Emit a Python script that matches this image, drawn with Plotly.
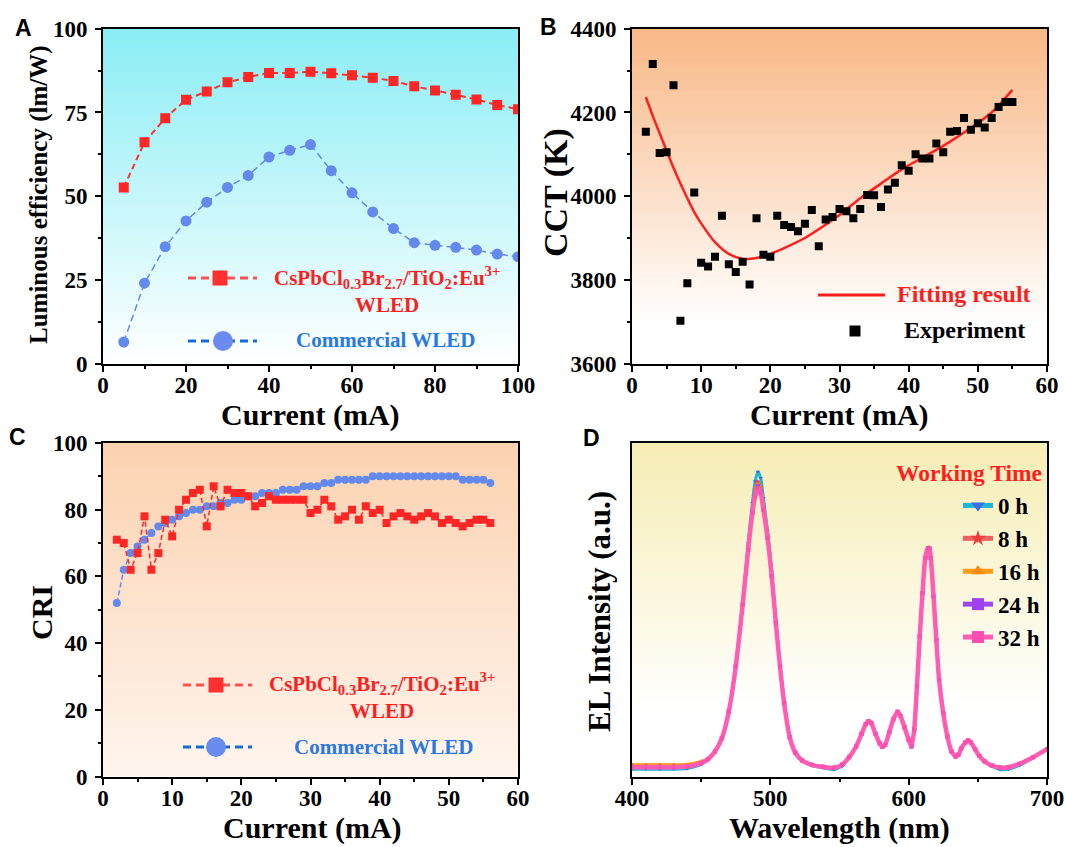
import plotly.graph_objects as go

W, H = 1065, 847
SERIF = "Liberation Serif"
SANS = "Liberation Sans"


def px(x):
    return x / W


def py(y):
    return 1 - y / H


# ---------------- Panel A data ----------------
a_current = [5, 10, 15, 20, 25, 30, 35, 40, 45, 50, 55, 60, 65, 70, 75, 80, 85, 90, 95, 100]
a_perov = [52.6, 66.1, 73.3, 78.8, 81.3, 84.0, 85.6, 86.8, 86.8, 87.2,
           86.7, 86.1, 85.4, 84.4, 82.8, 81.6, 80.3, 78.9, 77.2, 76.0]
a_comm = [6.4, 24.0, 34.9, 42.6, 48.2, 52.6, 56.2, 61.7, 63.7, 65.4,
          57.6, 51.0, 45.3, 40.3, 36.1, 35.3, 34.7, 33.9, 32.7, 31.9]

# ---------------- Panel B data ----------------
b_current = list(range(2, 56))
b_cct = [4154, 4316, 4103, 4105, 4265, 3702, 3792, 4009, 3841, 3832,
         3855, 3953, 3837, 3819, 3843, 3789, 3947, 3860, 3855, 3953,
         3931, 3926, 3916, 3934, 3967, 3880, 3944, 3950, 3969, 3964,
         3947, 3969, 4003, 4002, 3974, 4016, 4032, 4074, 4061, 4100,
         4090, 4090, 4126, 4105, 4154, 4156, 4187, 4159, 4174, 4164,
         4187, 4213, 4225, 4225]
b_fit_x = [2, 3, 4, 5, 6, 7, 8, 9, 10, 12, 14, 16, 18, 20, 22, 25, 28, 30, 33, 36, 39, 42, 45, 48, 52, 55]
b_fit = [4237, 4192, 4150, 4109, 4068, 4030, 3995, 3962, 3935, 3890, 3862, 3850, 3852,
         3862, 3876, 3900, 3932, 3955, 3995, 4030, 4064, 4092, 4120, 4152, 4200, 4254]

# ---------------- Panel C data ----------------
c_current = list(range(2, 57))
c_perov = [71, 70, 62, 67, 78, 62, 67, 77, 72, 80, 83, 85, 86, 75, 87, 81, 86, 85, 85, 84,
           81, 82, 84, 83, 83, 83, 83, 83, 79, 80, 83, 81, 77, 78, 80, 77, 81, 79, 80, 76,
           78, 79, 78, 77, 78, 79, 78, 76, 77, 76, 75, 76, 77, 77, 76]
c_comm = [52, 62, 67, 69, 71, 73, 75, 76, 77, 78, 79, 80, 80, 81, 81, 82, 82, 83, 83, 84,
          84, 85, 85, 85, 86, 86, 86, 87, 87, 87, 88, 88, 89, 89, 89, 89, 89, 90, 90, 90,
          90, 90, 90, 90, 90, 90, 90, 90, 90, 90, 89, 89, 89, 89, 88]

# ---------------- Panel D data ----------------
wl = [400, 410, 420, 430, 440, 450, 455, 460, 465, 470, 475, 480, 484, 487, 489, 491, 493, 495,
      498, 501, 504, 507, 510, 514, 518, 523, 530, 538, 546, 552, 557, 562, 566, 569, 571, 573,
      576, 579, 581, 583, 586, 589, 592, 594, 597, 600, 602, 604, 606, 608, 610, 612, 614, 615,
      616, 618, 620, 622, 625, 628, 631, 634, 636, 638, 641, 643, 645, 648, 651, 655, 660, 666,
      672, 680, 690, 700]
el_0h = [0.022, 0.022, 0.022, 0.022, 0.024, 0.036, 0.052, 0.075, 0.115, 0.195, 0.330, 0.520, 0.700, 0.820, 0.885, 0.914, 0.895, 0.835,
         0.735, 0.615, 0.465, 0.330, 0.220, 0.118, 0.072, 0.048, 0.033, 0.026, 0.021, 0.031, 0.058, 0.090, 0.128, 0.157, 0.166, 0.160,
         0.128, 0.100, 0.089, 0.095, 0.133, 0.172, 0.194, 0.182, 0.148, 0.110, 0.090, 0.140, 0.270, 0.420, 0.550, 0.655, 0.685, 0.684,
         0.655, 0.540, 0.410, 0.290, 0.190, 0.120, 0.075, 0.060, 0.066, 0.084, 0.102, 0.108, 0.102, 0.082, 0.062, 0.045, 0.031, 0.021,
         0.022, 0.033, 0.056, 0.082]
el_8h = [0.034, 0.034, 0.034, 0.034, 0.035, 0.044, 0.054, 0.075, 0.115, 0.195, 0.330, 0.518, 0.690, 0.800, 0.860, 0.884, 0.868, 0.815,
         0.725, 0.605, 0.462, 0.330, 0.220, 0.118, 0.072, 0.048, 0.035, 0.029, 0.026, 0.036, 0.058, 0.090, 0.128, 0.157, 0.166, 0.160,
         0.128, 0.100, 0.089, 0.095, 0.133, 0.172, 0.194, 0.182, 0.148, 0.110, 0.090, 0.140, 0.270, 0.420, 0.550, 0.655, 0.685, 0.684,
         0.655, 0.540, 0.410, 0.290, 0.190, 0.120, 0.075, 0.060, 0.066, 0.084, 0.102, 0.108, 0.102, 0.082, 0.062, 0.045, 0.033, 0.027,
         0.028, 0.038, 0.058, 0.082]
el_16h = [0.035, 0.035, 0.035, 0.035, 0.036, 0.045, 0.054, 0.075, 0.115, 0.195, 0.330, 0.516, 0.685, 0.795, 0.852, 0.877, 0.862, 0.810,
          0.720, 0.602, 0.461, 0.330, 0.220, 0.118, 0.072, 0.048, 0.035, 0.029, 0.026, 0.036, 0.058, 0.090, 0.128, 0.157, 0.166, 0.160,
          0.128, 0.100, 0.089, 0.095, 0.133, 0.172, 0.194, 0.182, 0.148, 0.110, 0.090, 0.140, 0.270, 0.420, 0.550, 0.655, 0.685, 0.684,
          0.655, 0.540, 0.410, 0.290, 0.190, 0.120, 0.075, 0.060, 0.066, 0.084, 0.102, 0.108, 0.102, 0.082, 0.062, 0.045, 0.033, 0.027,
          0.028, 0.038, 0.058, 0.082]
el_24h = [0.030, 0.030, 0.030, 0.030, 0.031, 0.041, 0.052, 0.075, 0.115, 0.195, 0.330, 0.515, 0.682, 0.792, 0.846, 0.870, 0.856, 0.805,
          0.717, 0.600, 0.460, 0.330, 0.220, 0.118, 0.072, 0.048, 0.035, 0.029, 0.026, 0.036, 0.058, 0.090, 0.128, 0.157, 0.166, 0.160,
          0.128, 0.100, 0.089, 0.095, 0.133, 0.172, 0.194, 0.182, 0.148, 0.110, 0.090, 0.140, 0.270, 0.420, 0.550, 0.655, 0.685, 0.684,
          0.655, 0.540, 0.410, 0.290, 0.190, 0.120, 0.075, 0.060, 0.066, 0.084, 0.102, 0.108, 0.102, 0.082, 0.062, 0.045, 0.033, 0.027,
          0.028, 0.038, 0.058, 0.082]
el_32h = [0.028, 0.028, 0.028, 0.028, 0.030, 0.040, 0.052, 0.075, 0.115, 0.195, 0.330, 0.515, 0.680, 0.790, 0.840, 0.864, 0.850, 0.800,
          0.715, 0.600, 0.460, 0.330, 0.220, 0.118, 0.072, 0.048, 0.035, 0.029, 0.026, 0.036, 0.058, 0.090, 0.128, 0.157, 0.166, 0.160,
          0.128, 0.100, 0.089, 0.095, 0.133, 0.172, 0.194, 0.182, 0.148, 0.110, 0.090, 0.140, 0.270, 0.420, 0.550, 0.655, 0.685, 0.684,
          0.655, 0.540, 0.410, 0.290, 0.190, 0.120, 0.075, 0.060, 0.066, 0.084, 0.102, 0.108, 0.102, 0.082, 0.062, 0.045, 0.033, 0.027,
          0.028, 0.038, 0.058, 0.082]
d_names = ["0 h", "8 h", "16 h", "24 h", "32 h"]
d_series = [el_0h, el_8h, el_16h, el_24h, el_32h]
d_line_colors = ["#1fb4d6", "#f06060", "#ff9a1a", "#a046f0", "#ff5cb4"]
d_marker_colors = ["#3b6fe6", "#ee3c3c", "#ff8c00", "#a040f0", "#ff4fae"]
d_symbols = ["triangle-down", "star", "triangle-up", "square", "square"]

RED = "#ff2626"
BLUE = "#6489ec"

fig = go.Figure()

# Panel A
fig.add_trace(go.Scatter(x=a_current, y=a_perov, mode="lines+markers", xaxis="x", yaxis="y",
                         line=dict(color="#ff3030", width=2, dash="6px,4px"),
                         marker=dict(symbol="square", size=10, color=RED), showlegend=False))
fig.add_trace(go.Scatter(x=a_current, y=a_comm, mode="lines+markers", xaxis="x", yaxis="y",
                         line=dict(color=BLUE, width=1.5, dash="7px,4px"),
                         marker=dict(symbol="circle", size=11, color=BLUE), showlegend=False))

# Panel B
fig.add_trace(go.Scatter(x=b_fit_x, y=b_fit, mode="lines", xaxis="x2", yaxis="y2",
                         line=dict(color="#ff1e1e", width=2.5, shape="spline", smoothing=0.8),
                         showlegend=False))
fig.add_trace(go.Scatter(x=b_current, y=b_cct, mode="markers", xaxis="x2", yaxis="y2",
                         marker=dict(symbol="square", size=8, color="black"), showlegend=False))

# Panel C
fig.add_trace(go.Scatter(x=c_current, y=c_comm, mode="lines+markers", xaxis="x3", yaxis="y3",
                         line=dict(color=BLUE, width=1.5, dash="5px,3px"),
                         marker=dict(symbol="circle", size=8, color=BLUE), showlegend=False))
fig.add_trace(go.Scatter(x=c_current, y=c_perov, mode="lines+markers", xaxis="x3", yaxis="y3",
                         line=dict(color=RED, width=1.5, dash="5px,3px"),
                         marker=dict(symbol="square", size=8, color=RED), showlegend=False))

# Panel D
for name, ser, lc, mc, sym in zip(d_names, d_series, d_line_colors, d_marker_colors, d_symbols):
    wid = 4.5 if name == "32 h" else 3
    fig.add_trace(go.Scatter(x=wl, y=ser, mode="lines+markers", xaxis="x4", yaxis="y4", name=name,
                             line=dict(color=lc, width=wid, shape="spline", smoothing=0.6),
                             marker=dict(symbol=sym, size=4, color=mc), showlegend=True))


def axis(domain, rng, dtick, minor_dtick, anchor, labels=True, ticks="outside", standoff=3):
    d = dict(domain=domain, range=rng, anchor=anchor, showline=True, linewidth=2, linecolor="black",
             mirror=True, ticks=ticks, ticklen=6, tickwidth=2, tickcolor="black",
             showgrid=False, zeroline=False, automargin=False, fixedrange=True,
             showticklabels=labels, ticklabelstandoff=standoff,
             tickfont=dict(family=SERIF, size=23, color="black", weight="bold"))
    if dtick is not None:
        d["dtick"] = dtick
    if minor_dtick is not None:
        d["minor"] = dict(dtick=minor_dtick, ticks="outside", ticklen=3.5, tickwidth=1.5, tickcolor="black")
    return d


AX_L, AX_R = px(103), px(518)
BX_L, BX_R = px(632), px(1047)
TOP_Y = [py(363.5), py(28.8)]
BOT_Y = [py(776.5), py(443)]


def grad_shapes(ref, top, bottom, w, n=70):
    out = []
    for i in range(n):
        t = (i + 0.5) / n
        if t <= w:
            c = bottom
        else:
            f = (t - w) / (1 - w)
            c = tuple(round(bottom[k] + (top[k] - bottom[k]) * f) for k in range(3))
        out.append(dict(type="rect", xref=ref[0] + " domain", yref=ref[1] + " domain",
                        x0=0, x1=1, y0=i / n, y1=min(1, (i + 1) / n + 0.004),
                        fillcolor="rgb(%d,%d,%d)" % c, line=dict(width=0), layer="below"))
    return out


shapes = []
shapes += grad_shapes(("x", "y"), (138, 238, 245), (255, 255, 255), 0.0)
shapes += grad_shapes(("x2", "y2"), (248, 184, 134), (255, 255, 255), 0.12)
shapes += grad_shapes(("x3", "y3"), (251, 210, 176), (255, 245, 238), 0.0)
shapes += grad_shapes(("x4", "y4"), (246, 237, 180), (255, 255, 255), 0.2)


def pline(x0, x1, y, color, width=3, dash=None):
    return dict(type="line", xref="paper", yref="paper", x0=px(x0), x1=px(x1), y0=py(y), y1=py(y),
                line=dict(color=color, width=width, dash=dash))


def psquare(cx, cy, s, color):
    return dict(type="rect", xref="paper", yref="paper", x0=px(cx - s / 2), x1=px(cx + s / 2),
                y0=py(cy + s / 2), y1=py(cy - s / 2), fillcolor=color, line=dict(width=0))


def pcircle(cx, cy, d, color):
    return dict(type="circle", xref="paper", yref="paper", x0=px(cx - d / 2), x1=px(cx + d / 2),
                y0=py(cy + d / 2), y1=py(cy - d / 2), fillcolor=color, line=dict(width=0))


# legend glyphs A
shapes += [pline(188, 257, 278, "#ff5050", 3, "8px,5px"), psquare(220, 278, 15, "#ff3030"),
           pline(188, 257, 341, "#1a6ad6", 3, "8px,5px"), pcircle(223, 341, 20, "#6a8cf0")]
# legend glyphs B
shapes += [pline(818, 885, 295, "#ff1e1e", 3), psquare(855, 331, 11, "black")]
# legend glyphs C
shapes += [pline(183, 252, 685, "#ff5050", 3, "8px,5px"), psquare(216, 685, 15, "#ff3030"),
           pline(183, 252, 747, "#1a6ad6", 3, "8px,5px"), pcircle(216, 747, 20, "#6a8cf0")]


def ann(text, x, y, size, color="black", family=SERIF, xanchor="center", yanchor="middle", angle=0):
    return dict(text=text, x=px(x), y=py(y), xref="paper", yref="paper", showarrow=False,
                xanchor=xanchor, yanchor=yanchor, textangle=angle,
                font=dict(family=family, size=size, color=color, weight="bold"))


PEROV = "CsPbCl<sub>0.3</sub>Br<sub>2.7</sub>/TiO<sub>2</sub>:Eu<sup>3+</sup><br>WLED"
annotations = [
    ann("A", 23, 28, 23, family=SANS), ann("B", 548, 27, 23, family=SANS),
    ann("C", 17, 437, 23, family=SANS), ann("D", 591, 438, 23, family=SANS),
    ann("Current (mA)", 310, 415, 30), ann("Current (mA)", 839, 415, 30),
    ann("Current (mA)", 312, 828, 30), ann("Wavelength (nm)", 839, 828, 30),
    ann("Luminous efficiency (lm/W)", 39, 195, 25, angle=-90),
    ann("CCT (K)", 556, 193, 34, angle=-90),
    ann("CRI", 41, 613, 30, angle=-90),
    ann("EL Intensity (a.u.)", 599, 612, 31, angle=-90),
    ann(PEROV, 387, 290, 21, color="#ff1e1e"),
    ann("Commercial WLED", 385, 340, 21, color="#2a78e4"),
    ann(PEROV, 382, 696, 21, color="#ff1e1e"),
    ann("Commercial WLED", 383, 747, 21, color="#2a78e4"),
    ann("Fitting result", 895, 294, 24, color="#ff1e1e", xanchor="left"),
    ann("Experiment", 902, 330, 24, color="black", xanchor="left"),
    ann("Working Time", 1044, 473, 23.5, color="#ff1e1e", xanchor="right"),
]

fig.update_layout(
    width=W, height=H, margin=dict(l=0, r=0, t=0, b=0),
    paper_bgcolor="white", plot_bgcolor="white",
    xaxis=axis([AX_L, AX_R], [0, 100], 20, 10, "y", standoff=-6),
    yaxis=axis(TOP_Y, [0, 100], 25, 12.5, "x"),
    xaxis2=axis([BX_L, BX_R], [0, 60], 10, 5, "y2", standoff=-6),
    yaxis2=axis(TOP_Y, [3600, 4400], 200, 100, "x2"),
    xaxis3=axis([AX_L, AX_R], [0, 60], 10, 5, "y3", standoff=-6),
    yaxis3=axis(BOT_Y, [0, 100], 20, 10, "x3"),
    xaxis4=axis([BX_L, BX_R], [400, 700], 100, 50, "y4", standoff=-6),
    yaxis4=axis(BOT_Y, [0, 1], None, None, "x4", labels=False, ticks=""),
    shapes=shapes, annotations=annotations,
    legend=dict(x=px(958), y=py(484), xanchor="left", yanchor="top", bgcolor="rgba(0,0,0,0)",
                borderwidth=0, itemsizing="constant", tracegroupgap=0,
                font=dict(family=SERIF, size=23, color="black", weight="bold")),
)

fig.write_html("out.html")
